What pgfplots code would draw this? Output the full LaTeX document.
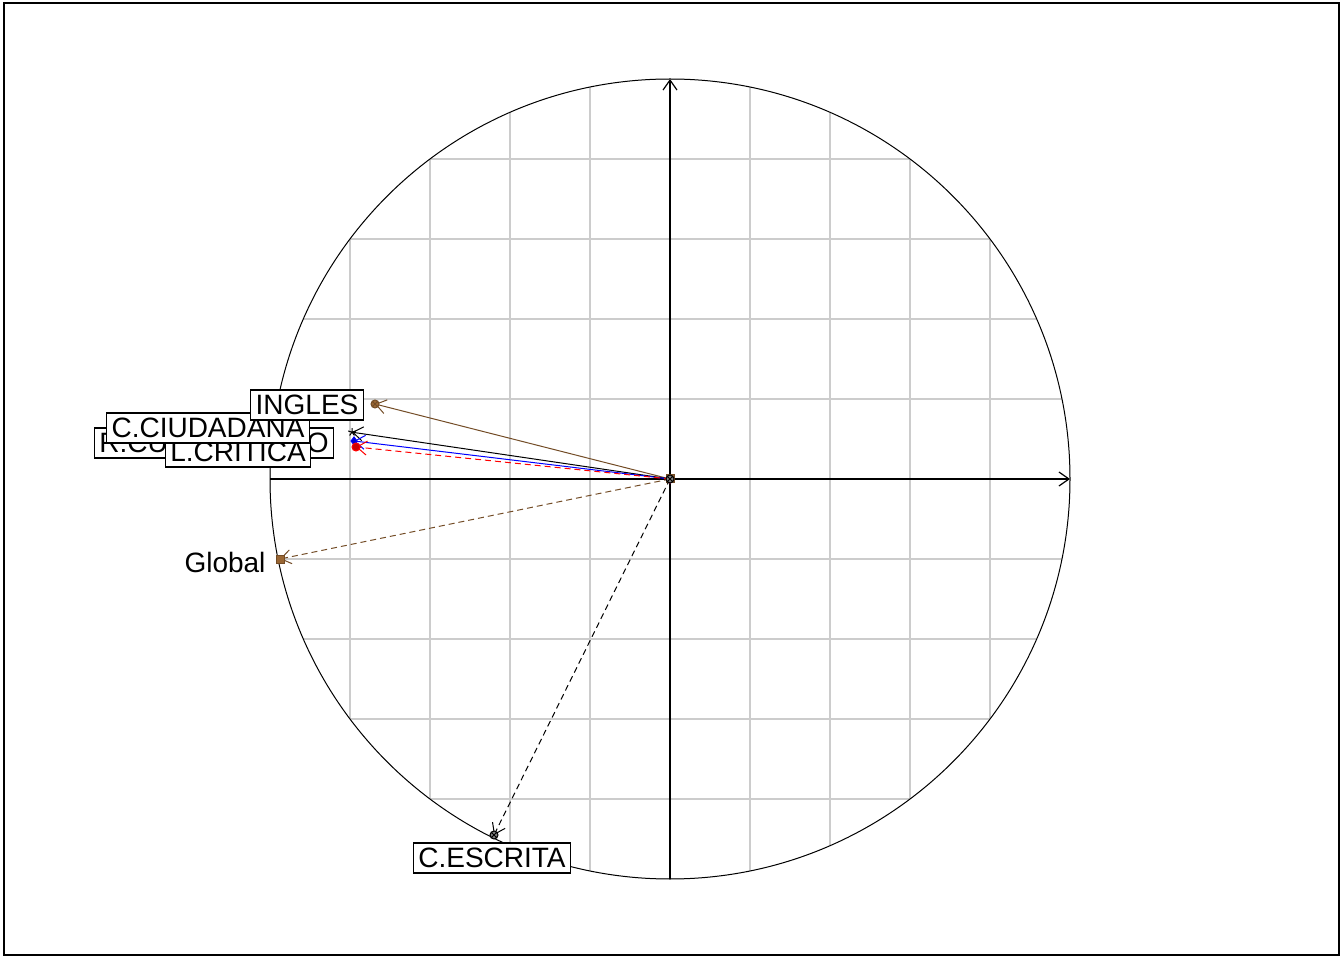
\documentclass[border=0pt]{standalone}
\usepackage{pgfplots}
\pgfplotsset{compat=1.18}
\usepackage{fontspec}
\setmainfont{Liberation Sans}
\usetikzlibrary{arrows.meta}
\begin{document}
\begin{tikzpicture}
\begin{axis}[scale only axis, width=667.5pt, height=476pt,
  xmin=-1.665, xmax=1.6725, ymin=-1.19, ymax=1.19,
  ticks=none, axis line style={line width=0.6pt}, clip=false]
\begin{scope}
\clip (axis cs:0,0) circle[radius=200pt];
\pgfplotsinvokeforeach{-1.0,-0.8,-0.6,-0.4,-0.2,0.2,0.4,0.6,0.8,1.0}{
  \draw[gray!40, line width=0.6pt] (axis cs:#1,-1.1) -- (axis cs:#1,1.1);
  \draw[gray!40, line width=0.6pt] (axis cs:-1.1,#1) -- (axis cs:1.1,#1);
}
\end{scope}
\draw[line width=0.5pt] (axis cs:0,0) circle[radius=200pt];
\addplot[black, line width=0.6pt] coordinates {(-1,0) (1,0)};
\addplot[black, line width=0.6pt] coordinates {(0,-1) (0,1)};
\pgfplotsset{every axis plot/.append style={black, line width=0.5pt, -{Straight Barb[length=5pt,width=7pt]}}}
\addplot coordinates {(0,0) (-0.7375,0.1875)};
\addplot coordinates {(0,0) (-0.795,0.117)};
\addplot coordinates {(0,0) (-0.79,0.095)};
\addplot coordinates {(0,0) (-0.785,0.08)};
\addplot coordinates {(0,0) (-0.975,-0.2)};
\addplot coordinates {(0,0) (-0.44,-0.89)};
\tikzset{lab/.style={draw, fill=white, line width=0.6pt, inner sep=2.5pt, font=\fontsize{14}{16}\selectfont}}
\node[lab] at (axis cs:-1.14,0.09) {R.CUANTITATIVO};
\node[lab] at (axis cs:-1.08,0.0675) {L.CRITICA};
\node[lab] at (axis cs:-1.155,0.1275) {C.CIUDADANA};
\node[lab] at (axis cs:-0.9075,0.185) {INGLES};
\node[lab] at (axis cs:-0.445,-0.9475) {C.ESCRITA};
\node[font=\fontsize{14}{16}\selectfont] at (axis cs:-1.1125,-0.2075) {Global};
\end{axis}
\path (current axis.south west) ++(-2pt,-2.5pt) coordinate (a);
\path (current axis.north east) ++(2.5pt,1.5pt) coordinate (b);
\useasboundingbox (a) rectangle (b);
\end{tikzpicture}
\end{document}
